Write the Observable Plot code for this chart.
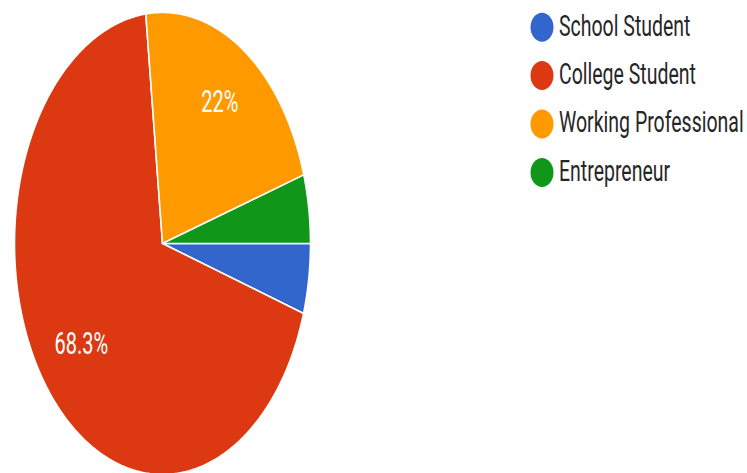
<!DOCTYPE html>
<html>
<head>
<meta charset="utf-8">
<script src="https://cdn.jsdelivr.net/npm/d3@7"></script>
<script src="https://cdn.jsdelivr.net/npm/@observablehq/plot@0.6"></script>
<style>
  html, body { margin: 0; padding: 0; background: #fff; }
  svg { display: block; }
</style>
</head>
<body>
<div id="chart"></div>
<script>
// ---- data ----
const categories = ["School Student", "College Student", "Working Professional", "Entrepreneur"];
const shares = [4.9, 68.3, 22, 4.8];
const colors = ["#3366cc", "#dc3912", "#ff9900", "#109618"];
const sliceLabels = ["", "68.3%", "22%", ""];
const startDeg = 90; // first slice starts at 3 o'clock, clockwise

// ---- layout helpers ----
const W = 747, H = 473;
const cx = 162, cy = 243, rx = 148, ry = 231;
const stretch = ry / rx;
const legendX = 541.5, legendY0 = 26.7, legendStep = 48.4;

const arcs = d3.pie().sort(null)
  .startAngle(startDeg * Math.PI / 180)
  .endAngle(startDeg * Math.PI / 180 + 2 * Math.PI)(shares);

// slice polygons in unit-circle data coordinates
const slicePts = [];
arcs.forEach((a, i) => {
  const cat = categories[i];
  slicePts.push({cat, x: 0, y: 0});
  const n = Math.max(2, Math.ceil((a.endAngle - a.startAngle) / (0.5 * Math.PI / 180)));
  for (let k = 0; k <= n; k++) {
    const t = a.startAngle + (a.endAngle - a.startAngle) * k / n;
    slicePts.push({cat, x: Math.sin(t), y: Math.cos(t)});
  }
  slicePts.push({cat, x: 0, y: 0});
});

const labelData = arcs.map((a, i) => {
  const m = (a.startAngle + a.endAngle) / 2;
  return {label: sliceLabels[i], x: 0.71 * Math.sin(m), y: 0.71 * Math.cos(m)};
}).filter(d => d.label);

const legendData = categories.map((c, i) => ({
  cat: c,
  x: (legendX - cx) / rx,
  y: (cy - (legendY0 + i * legendStep)) / ry
}));

// ellipse symbol for legend dots
const ellipseSymbol = {
  draw(ctx, size) {
    const a = 11.5, b = 14.5, kk = 0.5523;
    ctx.moveTo(a, 0);
    ctx.bezierCurveTo(a, b * kk, a * kk, b, 0, b);
    ctx.bezierCurveTo(-a * kk, b, -a, b * kk, -a, 0);
    ctx.bezierCurveTo(-a, -b * kk, -a * kk, -b, 0, -b);
    ctx.bezierCurveTo(a * kk, -b, a, -b * kk, a, 0);
    ctx.closePath();
  }
};

const plot = Plot.plot({
  width: W,
  height: H,
  style: {fontFamily: "Roboto, sans-serif", background: "#fff"},
  x: {domain: [-1, 1], range: [cx - rx, cx + rx], axis: null},
  y: {domain: [-1, 1], range: [cy + ry, cy - ry], axis: null},
  color: {domain: categories, range: colors},
  marks: [
    Plot.line(slicePts, {x: "x", y: "y", z: "cat", fill: "cat", stroke: "#fff", strokeWidth: 1.6, strokeLinejoin: "round", curve: "linear"}),
    Plot.text(labelData, {x: "x", y: "y", text: "label", fill: "#fff", fontSize: 20, textAnchor: "middle", lineAnchor: "middle", dy: -4}),
    Plot.dot(legendData, {x: "x", y: "y", fill: "cat", symbol: ellipseSymbol, r: 10}),
    Plot.text(legendData, {x: "x", y: "y", text: "cat", fill: "#262626", fontSize: 19.5, textAnchor: "start", lineAnchor: "middle", dx: 17, dy: -1.5})
  ]
});

document.getElementById("chart").appendChild(plot);

// stretch text vertically (about each text's own centre) to match the reference's tall glyphs
plot.querySelectorAll('g[aria-label="text"] text').forEach(t => {
  const bb = t.getBBox();
  let ty = 0;
  if (t.transform && t.transform.baseVal.numberOfItems) ty = t.transform.baseVal.consolidate().matrix.f;
  const c = ty + bb.y + bb.height / 2;
  const g = document.createElementNS("http://www.w3.org/2000/svg", "g");
  g.setAttribute("transform", `translate(0,${c}) scale(1,${stretch}) translate(0,${-c})`);
  t.parentNode.insertBefore(g, t);
  g.appendChild(t);
});
</script>
</body>
</html>
